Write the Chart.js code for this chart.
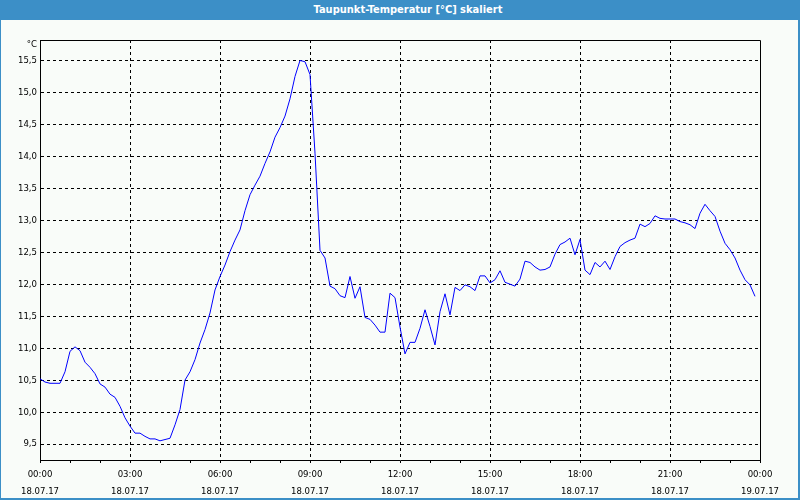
<!DOCTYPE html>
<html>
<head>
<meta charset="utf-8">
<script src="https://cdn.jsdelivr.net/npm/chart.js@4.4.1/dist/chart.umd.min.js"></script>
<style>
html,body{margin:0;padding:0;background:#f9fcf9;}
#wrap{position:relative;width:800px;height:500px;background:#f9fcf9;overflow:hidden;}
#title{position:absolute;left:0;top:0;width:800px;height:20px;background:#3c8fc7;color:#fff;
  font:bold 11px "DejaVu Sans Condensed","Liberation Sans",sans-serif;line-height:19px;text-align:center;padding-left:16px;box-sizing:border-box;}
.edge{position:absolute;background:#3c8fc7;}
canvas{position:absolute;left:0;top:0;}
</style>
</head>
<body>
<div id="wrap">
  <canvas id="c" width="800" height="500"></canvas>
  <div id="title">Taupunkt-Temperatur [°C] skaliert</div>
  <div class="edge" style="left:0;top:0;width:1px;height:500px;"></div>
  <div class="edge" style="left:798px;top:0;width:2px;height:500px;"></div>
  <div class="edge" style="left:0;top:498px;width:800px;height:2px;"></div>
</div>
<script>
// Sampling: one value every 10 minutes, starting 18.07.17 00:00
const sampleMinutes = 10;
const dewPoint = [
  10.52,10.47,10.45,10.45,10.45,10.63,10.95,11.02,10.96,10.78,10.70,10.60,
  10.44,10.39,10.28,10.23,10.09,9.91,9.78,9.67,9.67,9.62,9.58,9.58,
  9.55,9.57,9.59,9.80,10.04,10.50,10.63,10.82,11.08,11.29,11.55,11.91,
  12.12,12.30,12.51,12.69,12.85,13.15,13.40,13.55,13.69,13.89,14.07,14.30,
  14.45,14.63,14.90,15.25,15.50,15.48,15.28,14.05,12.53,12.41,11.97,11.93,
  11.82,11.79,12.12,11.78,11.96,11.48,11.45,11.36,11.25,11.25,11.86,11.79,
  11.33,10.91,11.09,11.09,11.31,11.60,11.34,11.05,11.57,11.85,11.52,11.95,
  11.90,11.99,11.96,11.90,12.13,12.13,12.02,12.07,12.21,12.03,12.00,11.97,
  12.08,12.36,12.34,12.27,12.22,12.23,12.27,12.47,12.62,12.66,12.72,12.46,
  12.70,12.22,12.15,12.34,12.27,12.36,12.23,12.43,12.59,12.65,12.69,12.72,
  12.94,12.90,12.95,13.07,13.03,13.02,13.02,13.02,12.98,12.96,12.93,12.87,
  13.11,13.25,13.15,13.06,12.83,12.64,12.54,12.41,12.22,12.07,11.99,11.81
];
const xTimeLabels = ["00:00","03:00","06:00","09:00","12:00","15:00","18:00","21:00","00:00"];
const xDateLabels = ["18.07.17","18.07.17","18.07.17","18.07.17","18.07.17","18.07.17","18.07.17","18.07.17","19.07.17"];
const yUnit = "°C";
const yMin = 9.25, yMax = 15.82, yStep = 0.5;

const FONT = '"DejaVu Sans Condensed","Liberation Sans",sans-serif';
const points = dewPoint.map((v, i) => ({x: i * sampleMinutes / 60, y: v}));

const frame = {
  id: 'frame',
  afterDraw(chart) {
    const {ctx, chartArea: a} = chart;
    ctx.save();
    ctx.strokeStyle = '#000';
    ctx.lineWidth = 1;
    ctx.beginPath();
    ctx.moveTo(a.left + 0.5, a.top + 0.5);
    ctx.lineTo(a.right + 0.5, a.top + 0.5);
    ctx.lineTo(a.right + 0.5, a.bottom + 0.5);
    ctx.stroke();
    ctx.fillStyle = '#000';
    ctx.font = '9.5px ' + FONT;
    ctx.textAlign = 'right';
    ctx.textBaseline = 'middle';
    ctx.fillText(yUnit, a.left - 3, a.top + 5);
    ctx.restore();
  }
};

new Chart(document.getElementById('c'), {
  type: 'line',
  data: {
    datasets: [{
      data: points,
      borderColor: '#0000ff',
      borderWidth: 1,
      pointRadius: 0,
      tension: 0,
      fill: false
    }]
  },
  options: {
    responsive: false,
    animation: false,
    devicePixelRatio: 1,
    layout: {padding: {left: 0, top: 40, right: 40, bottom: 0}},
    plugins: {legend: {display: false}, tooltip: {enabled: false}, title: {display: false}},
    scales: {
      x: {
        type: 'linear', min: 0, max: 24,
        afterFit(s) { s.height = 40; },
        ticks: {
          stepSize: 1, autoSkip: false, maxRotation: 0, minRotation: 0,
          color: '#000', padding: 3,
          font: {family: FONT, size: 9.5, lineHeight: 1.8},
          callback: (v) => (v % 3 === 0) ? [xTimeLabels[v / 3], xDateLabels[v / 3]] : ''
        },
        grid: {
          color: (c) => (c.tick && c.tick.value % 3 === 0 && c.tick.value > 0 && c.tick.value < 24) ? '#000' : 'rgba(0,0,0,0)',
          tickColor: '#000', tickLength: 3, tickBorderDash: [], lineWidth: 1
        },
        border: {display: true, color: '#000', width: 1, dash: [3, 3]}
      },
      y: {
        min: yMin, max: yMax,
        afterFit(s) { s.width = 40; },
        ticks: {
          stepSize: yStep, includeBounds: false, color: '#000', padding: 3,
          font: {family: FONT, size: 9.5},
          callback: (v) => Number(v).toFixed(1).replace('.', ',')
        },
        grid: {color: '#000', drawTicks: false, tickLength: 0, lineWidth: 1},
        border: {display: true, color: '#000', width: 1, dash: [3, 3]}
      }
    }
  },
  plugins: [frame]
});
</script>
</body>
</html>
